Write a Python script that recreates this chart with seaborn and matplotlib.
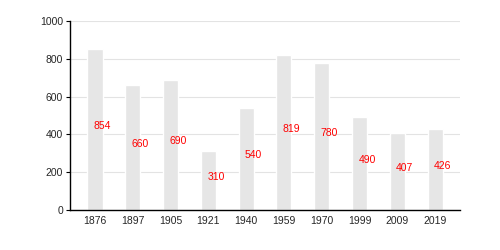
import matplotlib
matplotlib.use("Agg")
import matplotlib.pyplot as plt
import seaborn as sns
import pandas as pd

years = ["1876", "1897", "1905", "1921", "1940", "1959", "1970", "1999", "2009", "2019"]
population = [854, 660, 690, 310, 540, 819, 780, 490, 407, 426]
yticks = [0, 200, 400, 600, 800, 1000]

sns.set_theme(style="white")
plt.rcParams['font.family'] = ['Liberation Sans', 'DejaVu Sans']

df = pd.DataFrame({"year": years, "pop": population})
fig = plt.figure(figsize=(5, 2.5), dpi=100)
ax = fig.add_axes([0.14, 0.16, 0.78, 0.756])
sns.barplot(data=df, x="year", y="pop", color="#e6e6e6", width=0.4, saturation=1, ax=ax, zorder=2)
ax.set_ylim(0, 1000)
ax.set_xlim(-0.66, len(years) - 1 + 0.66)
ax.set_yticks(yticks)
ax.set_yticklabels([str(t) for t in yticks], fontsize=7.5)
ax.tick_params(axis='x', labelsize=7.5, length=0, pad=4)
ax.tick_params(axis='y', length=3, width=0.8, color='black', left=True, pad=2)
ax.yaxis.grid(True, color="#e3e3e3", linewidth=0.8, zorder=0)
ax.set_axisbelow(True)
for s in ["top", "right"]:
    ax.spines[s].set_visible(False)
for s in ["left", "bottom"]:
    ax.spines[s].set_color("black")
    ax.spines[s].set_linewidth(1)
ax.set_xlabel("")
ax.set_ylabel("")
for i, v in enumerate(population):
    ax.text(i + 0.2, v / 2 + 20, str(v), color="red", fontsize=7.5, ha="center", va="center", zorder=3)
fig.savefig("out.png", dpi=100)
